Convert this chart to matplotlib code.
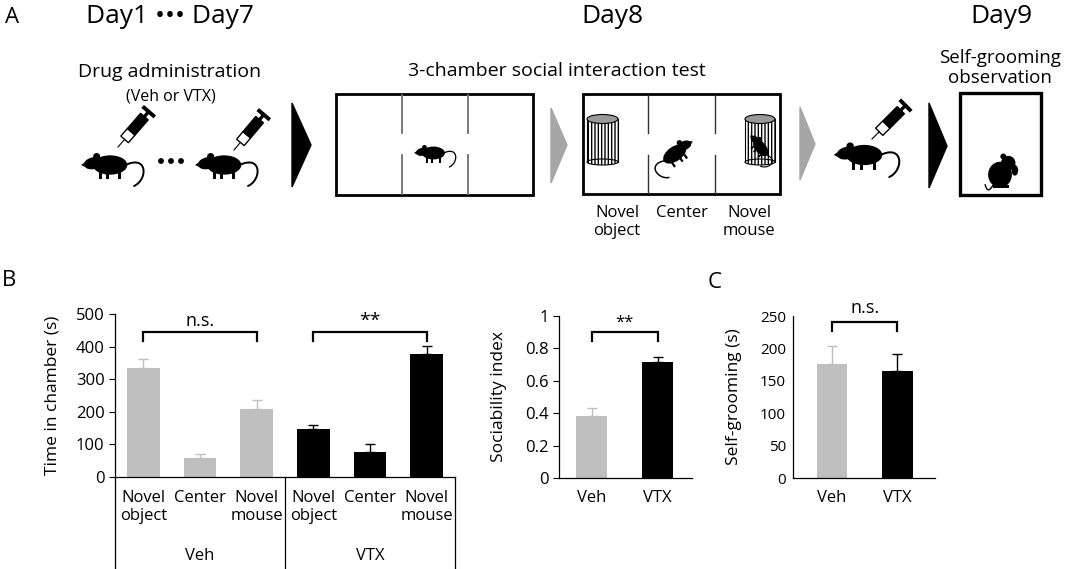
import numpy as np
import matplotlib
matplotlib.use("Agg")
import matplotlib.pyplot as plt
from matplotlib.patches import Rectangle, Ellipse, Circle, Polygon
from matplotlib.transforms import Affine2D

plt.rcParams['font.family'] = ['Open Sans', 'DejaVu Sans']

# ==========================================================
# DATA
# ==========================================================
chambers = ['Novel\nobject', 'Center', 'Novel\nmouse']
groups = ['Veh', 'VTX']

veh_time = [333, 57, 208]
veh_time_err = [30, 15, 27]
vtx_time = [146, 77, 376]
vtx_time_err = [14, 23, 25]

sociability = [0.385, 0.718]
sociability_err = [0.05, 0.027]

grooming = [176, 165]
grooming_err = [27, 26]

GRAY = '#bfbfbf'
W, H = 1065, 569

fig = plt.figure(figsize=(10.65, 5.69), dpi=100)


def pbox(l, r, b, t):
    # pixel box -> figure fraction
    return [l / W, 1 - b / H, (r - l) / W, (b - t) / H]


def bracket(ax, x0, x1, ylo, yhi, text, ty, size):
    ax.plot([x0, x0, x1, x1], [ylo, yhi, yhi, ylo], color='black', lw=1.6,
            clip_on=False, solid_joinstyle='miter')
    ax.text((x0 + x1) / 2, ty, text, ha='center', va='center', fontsize=size,
            clip_on=False)


def style(ax, ticklen=4):
    for s in ['top', 'right']:
        ax.spines[s].set_visible(False)
    ax.spines['left'].set_linewidth(0.9)
    ax.spines['bottom'].set_linewidth(0.9)
    ax.tick_params(axis='x', length=0)
    ax.tick_params(axis='y', length=ticklen, width=0.8)


# ==========================================================
# B - time in chamber
# ==========================================================
ax1 = fig.add_axes(pbox(115, 455, 477, 314))
vals = veh_time + vtx_time
errs = veh_time_err + vtx_time_err
cols = [GRAY] * 3 + ['black'] * 3
xb = np.arange(len(vals))
for i in range(len(vals)):
    ax1.bar(xb[i], vals[i], width=0.58, color=cols[i], zorder=2)
    ax1.errorbar(xb[i], vals[i], yerr=[[0], [errs[i]]], ecolor=cols[i],
                 capsize=3.5, elinewidth=1, capthick=1, fmt='none', zorder=1)
ax1.set_xlim(-0.5, 5.5)
ax1.set_ylim(0, 500)
ax1.set_yticks(range(0, 501, 100))
ax1.set_xticks(xb, chambers * 2)
style(ax1)
ax1.tick_params(axis='x', pad=9, labelsize=12)
ax1.tick_params(axis='y', labelsize=12)
ax1.set_ylabel('Time in chamber (s)', fontsize=12.5)
ax1.yaxis.set_label_coords(-0.16, 0.5)
bracket(ax1, 0, 2, 417, 445, 'n.s.', 478, 13)
bracket(ax1, 3, 5, 417, 445, '**', 478, 14)

# ==========================================================
# B - sociability index
# ==========================================================
ax2 = fig.add_axes(pbox(559, 692, 478, 316))
x2 = np.arange(2)
for i in range(2):
    c = [GRAY, 'black'][i]
    ax2.bar(x2[i], sociability[i], width=0.47, color=c, zorder=2)
    ax2.errorbar(x2[i], sociability[i], yerr=[[0], [sociability_err[i]]],
                 ecolor=c, capsize=3.5, elinewidth=1, capthick=1, fmt='none',
                 zorder=1)
ax2.set_xlim(-0.5, 1.52)
ax2.set_ylim(0, 1)
ax2.set_yticks([0, 0.2, 0.4, 0.6, 0.8, 1])
ax2.set_yticklabels(['0', '0.2', '0.4', '0.6', '0.8', '1'])
ax2.set_xticks(x2, groups)
style(ax2)
ax2.tick_params(axis='x', pad=9, labelsize=12)
ax2.tick_params(axis='y', labelsize=12)
ax2.set_ylabel('Sociability index', fontsize=12.5)
ax2.yaxis.set_label_coords(-0.39, 0.5)
bracket(ax2, 0, 1, 0.846, 0.90, '**', 0.96, 12)

# ==========================================================
# C - self-grooming
# ==========================================================
ax3 = fig.add_axes(pbox(793, 935, 478, 316))
for i in range(2):
    c = [GRAY, 'black'][i]
    ax3.bar(x2[i], grooming[i], width=0.47, color=c, zorder=2)
    ax3.errorbar(x2[i], grooming[i], yerr=[[0], [grooming_err[i]]],
                 ecolor=c, capsize=3.5, elinewidth=1, capthick=1, fmt='none',
                 zorder=1)
ax3.set_xlim(-0.6, 1.58)
ax3.set_ylim(0, 250)
ax3.set_yticks(range(0, 251, 50))
ax3.set_xticks(x2, groups)
style(ax3, ticklen=0)
ax3.tick_params(axis='x', pad=9, labelsize=12)
ax3.tick_params(axis='y', labelsize=11, pad=5)
ax3.set_ylabel('Self-grooming (s)', fontsize=12.5)
ax3.yaxis.set_label_coords(-0.36, 0.5)
bracket(ax3, 0, 1, 227, 241, 'n.s.', 263, 13)

# ==========================================================
# OVERLAY - panel A schematic, letters, group lines
# ==========================================================
ov = fig.add_axes([0, 0, 1, 1])
ov.set_xlim(0, W)
ov.set_ylim(H, 0)
ov.axis('off')


def mouse(cx, cy, s, flip=False, angle=0):
    tr = Affine2D().scale(-s if flip else s, s).rotate_deg(angle).translate(cx, cy) + ov.transData
    parts = [
        Ellipse((0.05, 0.0), 0.82, 0.46),
        Ellipse((-0.36, -0.04), 0.42, 0.28, angle=-12),
        Polygon([(-0.64, 0.0), (-0.48, -0.12), (-0.48, 0.08)]),
        Circle((-0.27, -0.2), 0.085),
        Rectangle((-0.22, 0.1), 0.07, 0.24),
        Rectangle((-0.05, 0.12), 0.07, 0.22),
        Rectangle((0.24, 0.1), 0.07, 0.24),
    ]
    for p in parts:
        p.set_facecolor('black')
        p.set_edgecolor('none')
        p.set_transform(tr)
        ov.add_patch(p)
    t = np.linspace(0, 1, 40)
    P = np.array([(0.42, 0.0), (0.95, -0.25), (0.95, 0.35), (0.62, 0.5)])
    bx = ((1 - t) ** 3 * P[0, 0] + 3 * (1 - t) ** 2 * t * P[1, 0]
          + 3 * (1 - t) * t ** 2 * P[2, 0] + t ** 3 * P[3, 0])
    by = ((1 - t) ** 3 * P[0, 1] + 3 * (1 - t) ** 2 * t * P[1, 1]
          + 3 * (1 - t) * t ** 2 * P[2, 1] + t ** 3 * P[3, 1])
    ov.plot(bx, by, color='black', lw=max(0.8, s / 30), transform=tr,
            solid_capstyle='round')


def groom_mouse(cx, cy, s):
    tr = Affine2D().scale(s, s).translate(cx, cy) + ov.transData
    parts = [
        Ellipse((0.0, 0.05), 0.72, 0.78),
        Circle((0.25, -0.3), 0.22),
        Circle((0.1, -0.5), 0.09),
        Ellipse((0.45, -0.08), 0.2, 0.32),
        Rectangle((-0.2, 0.36), 0.48, 0.08),
    ]
    for p in parts:
        p.set_facecolor('black')
        p.set_edgecolor('none')
        p.set_transform(tr)
        ov.add_patch(p)
    t = np.linspace(0, 1, 30)
    bx = -0.2 - 0.35 * t + 0.1 * t ** 2
    by = 0.36 + 0.15 * np.sin(np.pi * t)
    ov.plot(bx, by, color='black', lw=1.0, transform=tr)


def syringe(tip, end):
    tip = np.array(tip, float)
    end = np.array(end, float)
    d = end - tip
    L = np.hypot(*d)
    u = d / L
    n = np.array([-u[1], u[0]])
    pt = lambda f: tip + d * f
    # needle
    ov.plot(*zip(pt(0.0), pt(0.2)), color='black', lw=0.8)
    # transparent hub
    a, b = pt(0.2), pt(0.4)
    w = 0.1 * L
    ov.add_patch(Polygon([a + n * w, b + n * w, b - n * w, a - n * w],
                         facecolor='white', edgecolor='black', lw=1.0))
    # black barrel
    a, b = pt(0.4), pt(0.8)
    ov.add_patch(Polygon([a + n * w, b + n * w, b - n * w, a - n * w],
                         facecolor='black', edgecolor='black', lw=1.0))
    # plunger
    ov.plot(*zip(pt(0.8), pt(0.93)), color='black', lw=2.4)
    c = pt(0.93)
    ov.plot(*zip(c + n * w * 1.2, c - n * w * 1.2), color='black', lw=2.8)


def cylinder(x0, x1, y0, y1):
    ov.add_patch(Rectangle((x0, y0), x1 - x0, y1 - y0, facecolor='white',
                           edgecolor='black', lw=0.8, hatch='|||||'))
    ov.add_patch(Ellipse(((x0 + x1) / 2, y1), x1 - x0, 6, facecolor='white',
                         edgecolor='black', lw=0.8, hatch='|||||'))
    ov.add_patch(Ellipse(((x0 + x1) / 2, y0), x1 - x0, 9, facecolor='#9a9a9a',
                         edgecolor='black', lw=0.8))


fs_day = 19
ov.text(12, 17, 'A', fontsize=16, ha='center', va='center')
ov.text(170, 16, 'Day1 \u2022\u2022\u2022 Day7', fontsize=fs_day, ha='center', va='center')
ov.text(612, 16, 'Day8', fontsize=fs_day, ha='center', va='center')
ov.text(1001, 16, 'Day9', fontsize=fs_day, ha='center', va='center')
ov.text(170, 72, 'Drug administration', fontsize=14, ha='center', va='center')
ov.text(171, 96, '(Veh or VTX)', fontsize=11.5, ha='center', va='center')
ov.text(557, 71, '3-chamber social interaction test', fontsize=14, ha='center', va='center')
ov.text(1000, 58, 'Self-grooming', fontsize=13.5, ha='center', va='center')
ov.text(1000, 78, 'observation', fontsize=13.5, ha='center', va='center')

# injected mice
mouse(108, 165, 42)
syringe((118, 147), (151, 109))
for dx in [161, 171, 181]:
    ov.add_patch(Circle((dx, 161), 2.2, color='black'))
mouse(222, 165, 42)
syringe((234, 150), (266, 112))

# arrows
ov.add_patch(Polygon([(292, 103), (311, 145), (292, 187)], color='black'))
ov.add_patch(Polygon([(551, 108), (567, 145), (551, 183)], color='#a6a6a6'))
ov.add_patch(Polygon([(800, 107), (815, 144), (800, 180)], color='#a6a6a6'))
ov.add_patch(Polygon([(929, 103), (947, 146), (929, 188)], color='black'))

# chamber 1 (habituation)
ov.add_patch(Rectangle((336, 94), 197, 101, fill=False, edgecolor='black', lw=2.0))
for xd in [402, 468]:
    ov.plot([xd, xd], [95, 133], color='#707070', lw=1.3)
    ov.plot([xd, xd], [155, 194], color='#707070', lw=1.3)
mouse(432, 153, 28)

# chamber 2 (test)
ov.add_patch(Rectangle((583, 94), 197, 100, fill=False, edgecolor='black', lw=2.0))
for xd in [648, 715]:
    ov.plot([xd, xd], [95, 133], color='#333333', lw=1.0)
    ov.plot([xd, xd], [155, 193], color='#333333', lw=1.0)
cylinder(587, 618, 119, 162)
cylinder(745, 775, 119, 162)
mouse(676, 153, 32, flip=True, angle=-35)
mouse(760, 147, 24, flip=False, angle=50)
ov.text(617, 222, 'Novel\nobject', fontsize=12, ha='center', va='center',
        linespacing=1.15)
ov.text(682, 213, 'Center', fontsize=12, ha='center', va='center')
ov.text(749, 222, 'Novel\nmouse', fontsize=12, ha='center', va='center',
        linespacing=1.15)

# mouse before self-grooming
mouse(862, 155, 44)
syringe((872, 139), (908, 103))

# grooming box
ov.add_patch(Rectangle((960, 93), 81, 102, fill=False, edgecolor='black', lw=2.4))
groom_mouse(1000, 173, 33)

# panel letters B / C
ov.text(9, 280, 'B', fontsize=16, ha='center', va='center')
ov.text(715, 282, 'C', fontsize=16, ha='center', va='center')

# group separators under panel B
for xs in [115, 285, 455]:
    ov.plot([xs, xs], [477, 569], color='black', lw=0.9)
ov.text(200, 556, groups[0], fontsize=12, ha='center', va='center')
ov.text(370, 556, groups[1], fontsize=12, ha='center', va='center')

fig.savefig('out.png', dpi=100)
